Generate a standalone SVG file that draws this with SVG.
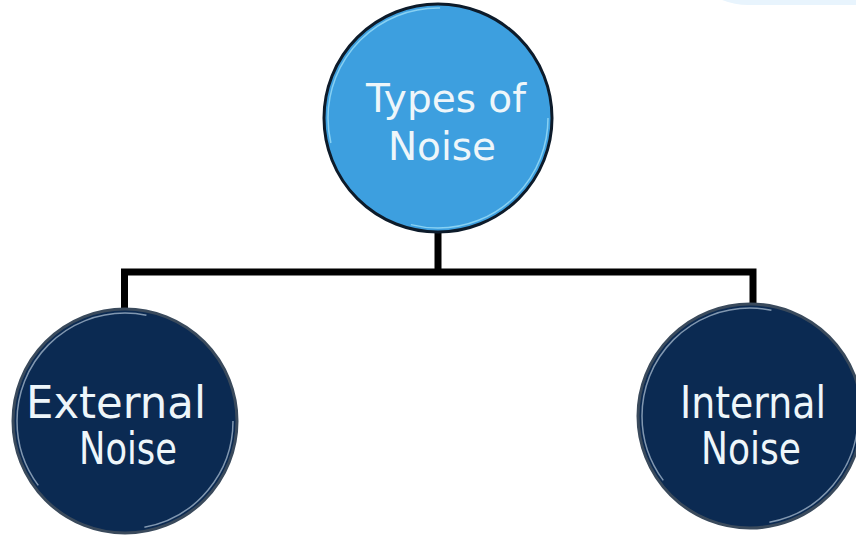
<svg xmlns="http://www.w3.org/2000/svg" width="856" height="538" viewBox="0 0 856 538">
  <defs>
    <style>
      .lbl { font-family: "DejaVu Sans", "Liberation Sans", sans-serif; fill: #eef6fa; text-anchor: middle; }
      .top { font-size: 39px; }
      .bot { font-size: 44px; }
      .conn { fill: none; stroke: #000; stroke-width: 7; stroke-linejoin: miter; }
      .dark { fill: #0b2a52; stroke: #3a4a5c; stroke-width: 3; }
      .darkring { fill: none; stroke: #9fb3c8; stroke-width: 1.5; opacity: 0.8; }
    </style>
  </defs>
  <rect width="856" height="538" fill="#ffffff"/>
  <path d="M722,0 Q735,5 748,5 L856,5 L856,0 Z" fill="#e8f4fd"/>

  <g id="connectors">
    <path class="conn" d="M438,232 V272"/>
    <path class="conn" d="M124.5,313 V272 H753 V304"/>
  </g>

  <g id="node-types">
    <circle cx="438" cy="118" r="114" fill="#3d9fdf" stroke="#0d1b2a" stroke-width="3"/>
    <circle cx="438" cy="118" r="110" fill="none" stroke="#8fd6f5" stroke-width="1.5" stroke-dasharray="200 120 200 171" opacity="0.9"/>
    <text class="lbl top" x="446" y="112">Types of</text>
    <text class="lbl top" x="442" y="160">Noise</text>
  </g>

  <g id="node-external">
    <circle class="dark" cx="125" cy="421" r="112"/>
    <circle class="darkring" cx="125" cy="421" r="108" stroke-dasharray="150 120 260 150"/>
    <text class="lbl bot" x="116" y="418" textLength="180" lengthAdjust="spacingAndGlyphs">External</text>
    <text class="lbl bot" x="128" y="464" textLength="98" lengthAdjust="spacingAndGlyphs">Noise</text>
  </g>

  <g id="node-internal">
    <circle class="dark" cx="750" cy="416" r="112"/>
    <circle class="darkring" cx="750" cy="416" r="108" stroke-dasharray="150 120 260 150"/>
    <text class="lbl bot" x="753" y="418" textLength="146" lengthAdjust="spacingAndGlyphs">Internal</text>
    <text class="lbl bot" x="751" y="464" textLength="100" lengthAdjust="spacingAndGlyphs">Noise</text>
  </g>
</svg>
